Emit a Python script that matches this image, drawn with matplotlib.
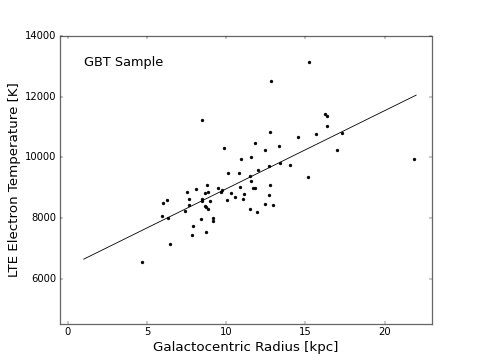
import matplotlib
matplotlib.use('Agg')
import matplotlib.pyplot as plt

plt.style.use('classic')

# galactocentric radius [kpc] and LTE electron temperature [K]
rgal = [9.86, 11.82, 10.96, 11.55, 10.09, 10.83, 11.99, 11.53, 11.55, 11.67,
        11.80, 10.85, 11.12, 11.06, 10.58, 10.30, 10.08, 9.65, 9.72, 9.51,
        8.77, 8.66, 8.88, 8.45, 8.98, 8.44, 8.66, 8.75, 8.83, 8.06,
        7.53, 7.62, 7.68, 7.40, 8.39, 9.19, 9.15, 7.89, 7.84, 8.71,
        6.44, 4.65, 5.93, 6.31, 6.01, 6.23, 11.50, 11.94, 8.47, 15.22,
        12.81, 16.26, 16.36, 16.34, 12.79, 14.56, 15.65, 17.31, 12.47, 13.33,
        16.97, 21.85, 12.73, 13.38, 14.03, 15.16, 12.79, 12.68, 12.47, 12.95]
te = [10300, 10480, 9940, 10020, 9490, 9480, 9590, 9390, 9220, 8970,
      8980, 9010, 8790, 8630, 8680, 8810, 8600, 8840, 8930, 8980,
      9070, 8810, 8840, 8615, 8570, 8560, 8380, 8350, 8300, 8960,
      8850, 8615, 8440, 8220, 7970, 8010, 7910, 7745, 7450, 7520,
      7150, 6550, 8065, 8010, 8495, 8595, 8300, 8200, 11240, 13140,
      12500, 11430, 11350, 11045, 10830, 10665, 10755, 10800, 10250, 10375,
      10250, 9930, 9700, 9795, 9730, 9345, 9090, 8745, 8470, 8415]

# linear fit drawn between these radii
fit_r = [1.0, 22.0]
fit_te = [6640, 12050]

fig = plt.figure(figsize=(8, 6))
ax = fig.add_subplot(111)
ax.plot(rgal, te, 'k.', markersize=7)
ax.plot(fit_r, fit_te, 'k-', linewidth=1.0)
ax.text(1, 13000, 'GBT Sample', fontsize=15.5)

ax.set_xlim(-0.5, 23)
ax.set_ylim(4500, 14000)
ax.set_xticks([0, 5, 10, 15, 20])
ax.set_yticks([6000, 8000, 10000, 12000, 14000])
ax.tick_params(labelsize=12)
for s in ax.spines.values():
    s.set_edgecolor('#666666')
    s.set_linewidth(1.5)
ax.set_xlabel('Galactocentric Radius [kpc]', fontsize=16)
ax.set_ylabel('LTE Electron Temperature [K]', fontsize=16)

fig.savefig('out.png', dpi=60, facecolor='white')
